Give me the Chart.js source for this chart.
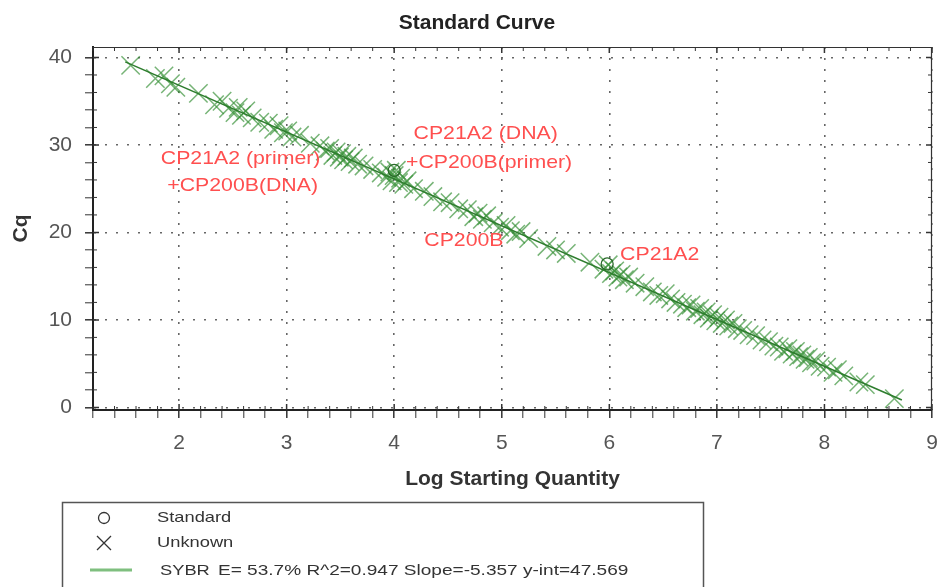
<!DOCTYPE html>
<html><head><meta charset="utf-8">
<script src="https://cdn.jsdelivr.net/npm/chart.js@4"></script>
<style>html,body{margin:0;padding:0;background:#fff}#wrap{width:938px;height:587px}</style>
</head><body><div id="wrap"><canvas id="c" width="938" height="587"></canvas></div>
<script>
// ---- data ----
const unknownX = [1.55,1.78,1.86,1.92,1.97,2.18,2.33,2.40,2.46,2.52,2.55,2.58,2.62,2.68,2.75,2.83,2.88,2.93,2.97,3.01,3.05,3.12,3.22,3.31,3.36,3.40,3.43,3.46,3.49,3.51,3.53,3.56,3.59,3.62,3.66,3.72,3.80,3.88,3.93,3.96,3.98,4.00,4.02,4.04,4.06,4.09,4.12,4.18,4.28,4.36,4.45,4.52,4.60,4.68,4.74,4.78,4.82,4.86,4.92,4.98,5.04,5.08,5.13,5.18,5.25,5.42,5.50,5.60,5.82,5.95,5.99,6.02,6.05,6.08,6.11,6.14,6.18,6.24,6.33,6.40,6.46,6.52,6.57,6.62,6.68,6.72,6.76,6.80,6.84,6.87,6.90,6.93,6.96,6.99,7.02,7.05,7.08,7.11,7.15,7.19,7.24,7.30,7.36,7.42,7.48,7.53,7.58,7.62,7.66,7.70,7.73,7.76,7.79,7.82,7.85,7.88,7.92,7.96,8.02,8.08,8.12,8.18,8.32,8.38,8.65];
const unknownY = [39.1,37.6,37.9,37.0,36.6,35.9,34.6,35.0,34.2,33.7,34.3,33.4,33.9,33.1,32.6,32.5,31.8,32.2,31.4,31.6,30.9,31.1,30.2,29.9,29.3,29.6,28.8,29.2,28.6,29.0,28.3,28.7,28.1,28.5,27.8,27.6,27.2,26.8,26.3,26.9,25.9,26.5,27.1,25.7,26.2,25.5,25.9,25.0,24.7,24.1,23.5,23.4,22.7,22.6,21.8,22.2,21.5,21.9,21.1,20.6,20.8,20.2,19.8,20.1,19.3,18.4,18.0,17.6,16.6,15.8,16.3,15.3,15.6,14.9,15.2,14.6,14.9,14.2,13.8,13.2,12.8,13.0,12.4,12.0,11.8,11.4,11.7,11.0,11.3,10.6,10.9,10.2,10.6,9.9,10.3,9.6,10.0,9.3,9.6,9.0,8.8,8.3,8.2,7.7,7.5,7.0,6.9,6.4,6.7,6.1,6.4,5.8,6.0,5.5,5.7,5.1,5.3,4.7,4.6,4.0,4.3,3.6,2.9,2.6,1.0];
const standardX = [4.00, 5.98];
const standardY = [27.1, 16.4];
const fitX = [1.5, 8.72];
const fitY = [39.5, 0.85];
const xTickLabels = ['2','3','4','5','6','7','8','9'];
const yTickLabels = ['0','10','20','30','40'];
const annotationText = ['CP21A2 (primer)', '+CP200B(DNA)', 'CP21A2 (DNA)', '+CP200B(primer)', 'CP200B', 'CP21A2'];
const annotationX = [1.83, 1.89, 4.18, 4.11, 4.28, 6.10];
const annotationY = [28.4, 25.3, 31.3, 28.0, 19.0, 17.4];
const legendLabels = ['Standard', 'Unknown', 'SYBR'];
const fitStats = 'E= 53.7% R^2=0.947 Slope=-5.357 y-int=47.569';
const chartTitle = 'Standard Curve';
const xTitle = 'Log Starting Quantity';
const yTitle = 'Cq';

const FONT = '"Liberation Sans", Arial, sans-serif';
const isInt = v => Math.abs(v - Math.round(v)) < 1e-6;
const isMajorY = v => isInt(v / 10);

function stretchedText(ctx, text, x, y, sx, align) {
  ctx.save();
  ctx.translate(x, y);
  ctx.scale(sx, 1);
  ctx.textAlign = align || 'left';
  ctx.fillText(text, 0, 0);
  ctx.restore();
}

const extras = {
  id: 'extras',
  afterDraw(chart) {
    const {ctx, chartArea: a, scales: {x, y}} = chart;
    ctx.save();
    // title
    ctx.fillStyle = '#222';
    ctx.font = 'bold 21px ' + FONT;
    ctx.textBaseline = 'middle';
    ctx.textAlign = 'center';
    ctx.fillText(chartTitle, 477, 23);
    // frame top & right
    ctx.strokeStyle = '#333';
    ctx.lineWidth = 1.2;
    ctx.beginPath();
    ctx.moveTo(a.left, a.top + 0.5);
    ctx.lineTo(a.right - 0.5, a.top + 0.5);
    ctx.lineTo(a.right - 0.5, a.bottom);
    ctx.stroke();
    // inner ticks
    ctx.strokeStyle = '#333';
    x.ticks.forEach(t => {
      const px = x.getPixelForValue(t.value);
      const len = isInt(t.value) ? 6 : 4;
      ctx.lineWidth = isInt(t.value) ? 1.5 : 1;
      ctx.beginPath();
      ctx.moveTo(px, a.bottom); ctx.lineTo(px, a.bottom - len);
      ctx.moveTo(px, a.top); ctx.lineTo(px, a.top + len);
      ctx.stroke();
    });
    y.ticks.forEach(t => {
      const py = y.getPixelForValue(t.value);
      const len = isMajorY(t.value) ? 6 : 4;
      ctx.lineWidth = isMajorY(t.value) ? 1.5 : 1;
      ctx.beginPath();
      ctx.moveTo(a.left, py); ctx.lineTo(a.left + len, py);
      ctx.moveTo(a.right, py); ctx.lineTo(a.right - len, py);
      ctx.stroke();
    });
    // annotations
    ctx.fillStyle = '#ff4f4f';
    ctx.font = '19px ' + FONT;
    ctx.textBaseline = 'middle';
    annotationText.forEach((t, i) => {
      stretchedText(ctx, t, x.getPixelForValue(annotationX[i]), y.getPixelForValue(annotationY[i]), 1.12, 'left');
    });
    // legend box
    const L = 62, T = 502, R = 703;
    ctx.strokeStyle = '#555';
    ctx.lineWidth = 1.5;
    ctx.strokeRect(L + 0.5, T + 0.5, R - L, 120);
    ctx.strokeStyle = '#333';
    ctx.lineWidth = 1.3;
    ctx.beginPath();
    ctx.arc(104, 518, 5.5, 0, Math.PI * 2);
    ctx.stroke();
    ctx.beginPath();
    ctx.moveTo(97, 536); ctx.lineTo(111, 550);
    ctx.moveTo(111, 536); ctx.lineTo(97, 550);
    ctx.stroke();
    ctx.strokeStyle = '#7fbf7f';
    ctx.lineWidth = 3;
    ctx.beginPath();
    ctx.moveTo(90, 570); ctx.lineTo(132, 570);
    ctx.stroke();
    ctx.fillStyle = '#333';
    ctx.font = '15px ' + FONT;
    ctx.textBaseline = 'middle';
    stretchedText(ctx, legendLabels[0], 157, 518, 1.22);
    stretchedText(ctx, legendLabels[1], 157, 543, 1.22);
    stretchedText(ctx, legendLabels[2], 160, 571, 1.22);
    stretchedText(ctx, fitStats, 218, 571, 1.27);
    ctx.restore();
  }
};

const unknownPts = unknownX.map((v, i) => ({x: v, y: unknownY[i]}));
const standardPts = standardX.map((v, i) => ({x: v, y: standardY[i]}));
const fitPts = fitX.map((v, i) => ({x: v, y: fitY[i]}));

new Chart(document.getElementById('c'), {
  type: 'scatter',
  data: {
    datasets: [
      {label: legendLabels[2], data: fitPts, showLine: true, borderColor: '#2e7d2e', borderWidth: 1.6, pointRadius: 0, fill: false},
      {label: legendLabels[0], data: standardPts, pointStyle: 'circle', pointRadius: 6, pointBorderWidth: 1.3, borderColor: '#2a6a2a', backgroundColor: 'rgba(0,0,0,0)'},
      {label: legendLabels[1], data: unknownPts, pointStyle: 'crossRot', pointRadius: 13, pointBorderWidth: 1.5, borderColor: 'rgba(55,145,55,0.68)', backgroundColor: 'rgba(55,145,55,0.68)'}
    ]
  },
  options: {
    responsive: false,
    animation: false,
    devicePixelRatio: 1,
    layout: {autoPadding: false, padding: {left: 0, right: 6, top: 47, bottom: 95}},
    plugins: {legend: {display: false}, title: {display: false}, tooltip: {enabled: false}},
    scales: {
      x: {
        type: 'linear', min: 1.2, max: 9,
        afterFit: s => { s.height = 82; s.paddingLeft = 0; s.paddingRight = 0; },
        ticks: {
          stepSize: 0.2, autoSkip: false, includeBounds: false, maxRotation: 0,
          padding: 13, color: '#555', font: {family: FONT, size: 21},
          callback: v => isInt(v) && xTickLabels.includes(String(Math.round(v))) ? String(Math.round(v)) : ''
        },
        grid: {
          color: c => (c.tick && isInt(c.tick.value)) ? '#666' : 'rgba(0,0,0,0)',
          lineWidth: 1.6, tickLength: 8, tickColor: '#333',
          tickWidth: c => (c.tick && isInt(c.tick.value)) ? 1.5 : 1
        },
        border: {display: true, color: '#222', width: 2, dash: [2, 9]},
        title: {display: true, text: xTitle, color: '#333', font: {family: FONT, size: 21, weight: 'bold'}, padding: {top: 0, bottom: 0}}
      },
      y: {
        type: 'linear', min: -0.3, max: 41.2,
        afterFit: s => { s.width = 93; s.paddingTop = 0; s.paddingBottom = 0; },
        ticks: {
          stepSize: 2, autoSkip: false, includeBounds: false,
          padding: 13, color: '#555', font: {family: FONT, size: 21},
          callback: v => (isMajorY(v) && yTickLabels.includes(String(Math.round(v)))) ? String(Math.round(v)) : ''
        },
        grid: {
          color: c => (c.tick && isMajorY(c.tick.value)) ? '#666' : 'rgba(0,0,0,0)',
          lineWidth: 1.6, tickLength: 8, tickColor: '#333',
          tickWidth: c => (c.tick && isMajorY(c.tick.value)) ? 1.5 : 1
        },
        border: {display: true, color: '#222', width: 2, dash: [2, 9]},
        title: {display: true, text: yTitle, color: '#333', font: {family: FONT, size: 21, weight: 'bold'}, padding: {top: 9, bottom: 0}}
      }
    }
  },
  plugins: [extras]
});
</script>
</body></html>
